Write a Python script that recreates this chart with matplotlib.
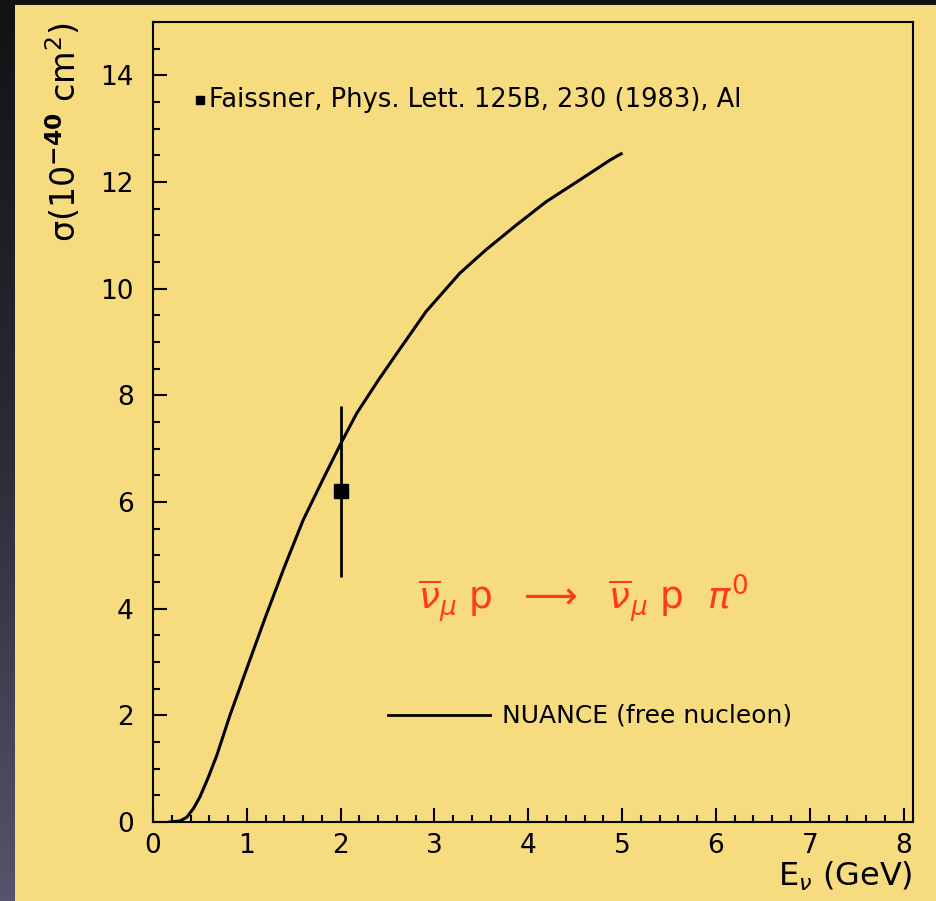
import numpy as np
import matplotlib
matplotlib.use("Agg")
import matplotlib.pyplot as plt
from matplotlib.patches import Rectangle
from matplotlib.ticker import MultipleLocator

# NUANCE free-nucleon prediction for anti-nu_mu p -> anti-nu_mu p pi0
e_nu = [0.18, 0.29, 0.36, 0.43, 0.50, 0.59, 0.68, 0.82, 1.00, 1.20, 1.40, 1.60,
        1.81, 2.00, 2.17, 2.40, 2.60, 2.91, 3.27, 3.55, 3.87, 4.19, 4.55, 4.87, 4.99]
sigma = [0.0, 0.02, 0.09, 0.25, 0.47, 0.84, 1.25, 2.00, 2.88, 3.85, 4.78, 5.66,
         6.42, 7.09, 7.66, 8.28, 8.79, 9.57, 10.29, 10.73, 11.19, 11.63, 12.04, 12.41, 12.53]

# Faissner et al. measurement (Al)
data_e = [2.0]
data_sigma = [6.2]
data_err = [1.6]

yellow = "#f6dc7e"

fig = plt.figure(figsize=(9.36, 9.01), dpi=100)

# dark backdrop with a soft vertical gradient
bg = fig.add_axes([0, 0, 1, 1], zorder=-10)
grad = np.linspace(0, 1, 256).reshape(-1, 1)
cmap = matplotlib.colors.LinearSegmentedColormap.from_list("bg", ["#121214", "#2c2b36", "#56546c"])
bg.imshow(grad, aspect="auto", cmap=cmap, extent=[0, 1, 0, 1], origin="upper")
bg.set_xlim(0, 1)
bg.set_ylim(0, 1)
bg.axis("off")
bg.add_patch(Rectangle((15 / 936, 0), 1, 1 - 5 / 901, color=yellow, lw=0))

ax = fig.add_axes([153 / 936, 79 / 901, 760 / 936, 800 / 901])
ax.patch.set_alpha(0)

ax.plot(e_nu, sigma, color="black", lw=2.2, solid_joinstyle="round")
ax.errorbar(data_e, data_sigma, yerr=data_err, fmt="s", color="black",
            ms=10, lw=2, capsize=0)

ax.set_xlim(0, 8.1)
ax.set_ylim(0, 15)
ax.xaxis.set_major_locator(MultipleLocator(1))
ax.xaxis.set_minor_locator(MultipleLocator(0.2))
ax.yaxis.set_major_locator(MultipleLocator(2))
ax.yaxis.set_minor_locator(MultipleLocator(0.5))
ax.tick_params(which="both", direction="in", width=1.5, labelsize=19)
ax.tick_params(which="major", length=10)
ax.tick_params(which="minor", length=5)
ax.tick_params(axis="y", pad=14)
ax.tick_params(axis="x", pad=8)
for s in ax.spines.values():
    s.set_linewidth(1.5)

ax.set_ylabel("σ(10$^{\\mathbf{-40}}$ cm$^{2}$)", fontsize=24, loc="top", labelpad=12)
ax.set_xlabel(r"E$_\nu$ (GeV)", fontsize=23, loc="right", labelpad=0)

ax.plot([0.5], [13.54], "s", color="black", ms=6)
ax.text(0.6, 13.54, "Faissner, Phys. Lett. 125B, 230 (1983), Al",
        fontsize=18.5, va="center", ha="left")

ax.plot([2.5, 3.59], [2.0, 2.0], color="black", lw=2)
ax.text(3.72, 2.0, "NUANCE (free nucleon)", fontsize=18, va="center", ha="left")

ax.text(2.82, 4.2,
        r"$\overline{\nu}_\mu$ p  $\longrightarrow$  $\overline{\nu}_\mu$ p  $\pi^0$",
        fontsize=27, color="#ff3a18", va="center", ha="left")

fig.savefig("out.png", dpi=100)
